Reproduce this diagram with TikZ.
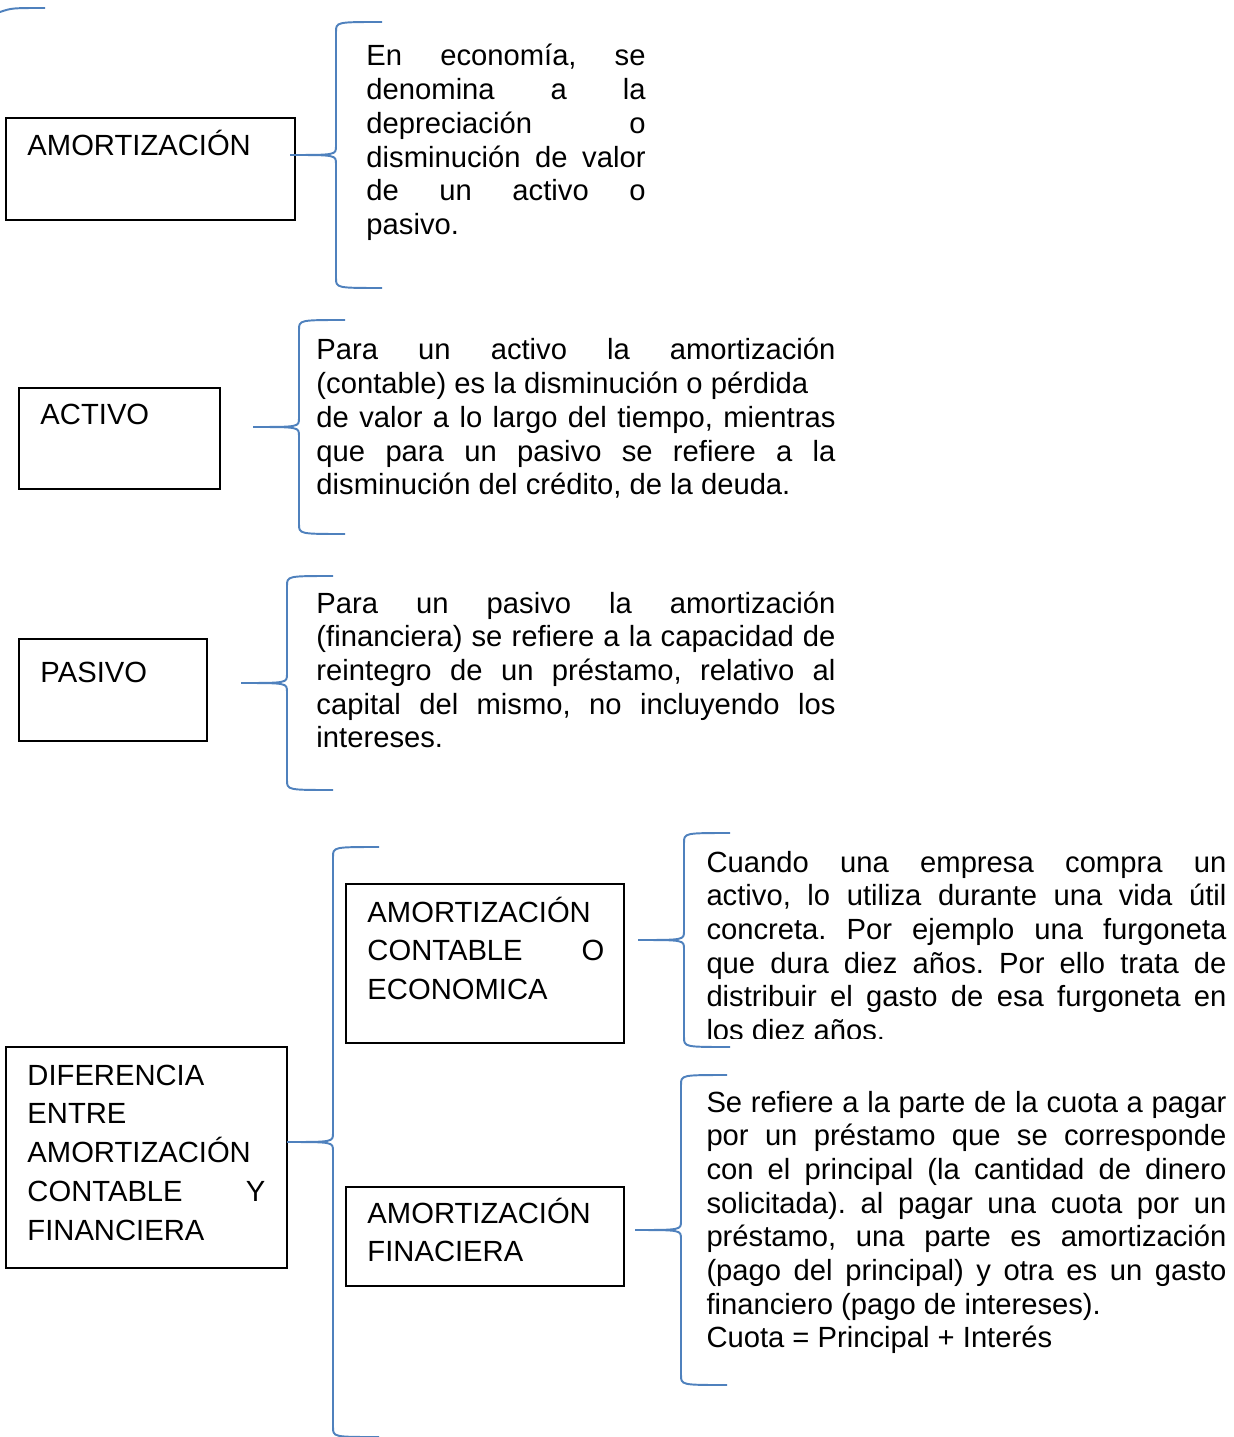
\documentclass[tikz,border=0pt]{standalone}
\usepackage{fontspec}
\setmainfont{Liberation Sans}
\usepackage{xcolor}
\usetikzlibrary{fit}
\definecolor{llaveazul}{rgb}{0.310, 0.506, 0.741}
\tikzset{caja/.style={draw=black, line width=0.8pt, inner sep=0pt}}
\tikzset{textocaja/.style={anchor=base west, inner sep=0pt, align=left, text width=97.4pt, font=\fontsize{12}{16}\selectfont}}
\tikzset{parrafo/.style={anchor=base west, inner sep=0pt, align=justify, font=\fontsize{12}{13.85}\selectfont}}
\tikzset{llave/.style={color=llaveazul, line width=0.8pt}}
\tolerance=10000
\hbadness=10000
\hfuzz=20pt
\hyphenpenalty=10000
\exhyphenpenalty=10000
\adjdemerits=0
\frenchspacing

\newcommand{\llave}[2]{%
  \begin{scope}[shift={(#1)}]
    \draw [llave] (92,-#2) .. controls (46,-#2) .. (46,-#2+10) -- (46,-9)
      .. controls (46,0) .. (0,0) .. controls (46,0) .. (46,9)
      -- (46,#2-10) .. controls (46,#2) .. (92,#2);
  \end{scope}}

\begin{document}
\begin{tikzpicture}[x=0.411pt, y=-0.411pt]
            \clip (0,0) rectangle (1234,1437);

            \draw [llave] (0,12) .. controls (12,8) .. (45,8);

            \node [caja, fit={(6,118) (295,220)}] (Bamort) {};
            \node [textocaja] (Tamort) at (27,156) {AMORTIZACIÓN};
            \coordinate (Ramort) at (290,155);
            \llave{Ramort}{133}
            \node [parrafo, text width=114.7pt] (Pamort) at (366,66)
              {En economía, se\linebreak denomina a la\linebreak depreciación o\linebreak disminución de valor\linebreak de un activo o\linebreak pasivo.};

            \node [caja, fit={(19,388) (220,489)}] (Bactivo) {};
            \node [textocaja] (Tactivo) at (40,425) {ACTIVO};
            \coordinate (Ractivo) at (253,427);
            \llave{Ractivo}{107}
            \node [parrafo, text width=213.3pt] (Pactivo) at (316,360)
              {Para un activo la amortización\linebreak (contable) es la disminución o pérdida\newline de valor a lo largo del tiempo, mientras\linebreak que para un pasivo se refiere a la\linebreak disminución del crédito, de la deuda.};

            \node [caja, fit={(19,639) (207,741)}] (Bpasivo) {};
            \node [textocaja] (Tpasivo) at (40,682) {PASIVO};
            \coordinate (Rpasivo) at (241,683);
            \llave{Rpasivo}{107}
            \node [parrafo, text width=213.3pt] (Ppasivo) at (316,613)
              {Para un pasivo la amortización\linebreak (financiera) se refiere a la capacidad de\linebreak reintegro de un préstamo, relativo al\linebreak capital del mismo, no incluyendo los\linebreak intereses.};

            \node [caja, fit={(6,1047) (287,1268)}] (Bdif) {};
            \node [textocaja, text width=97.8pt] (Tdif) at (27,1085)
              {DIFERENCIA\\ ENTRE\\ AMORTIZACIÓN\\ CONTABLE\hfill Y\\ FINANCIERA};
            \coordinate (Rdif) at (287,1142);
            \llave{Rdif}{295}

            \node [caja, fit={(346,884) (624,1043)}] (Bcont) {};
            \node [textocaja] (Tcont) at (367,922)
              {AMORTIZACIÓN\\ CONTABLE\hfill O\\ ECONOMICA};
            \coordinate (Rcont) at (638,940);
            \llave{Rcont}{107}
            \begin{scope}
              \clip (600,800) rectangle (1234,1038);
              \node [parrafo, text width=213.7pt] (Pcont) at (706,872)
                {Cuando una empresa compra un\linebreak activo, lo utiliza durante una vida útil\linebreak concreta. Por ejemplo una furgoneta\linebreak que dura diez años. Por ello trata de\linebreak distribuir el gasto de esa furgoneta en\linebreak los diez años.};
            \end{scope}

            \node [caja, fit={(346,1187) (624,1286)}] (Bfin) {};
            \node [textocaja] (Tfin) at (367,1223) {AMORTIZACIÓN\\ FINACIERA};
            \coordinate (Rfin) at (635,1230);
            \llave{Rfin}{155}
            \node [parrafo, text width=213.7pt] (Pfin) at (706,1112)
              {Se refiere a la parte de la cuota a pagar\linebreak por un préstamo que se corresponde\linebreak con el principal (la cantidad de dinero\linebreak solicitada). al pagar una cuota por un\linebreak préstamo, una parte es amortización\linebreak (pago del principal) y otra es un gasto\linebreak financiero (pago de intereses).\newline Cuota = Principal + Interés};
        \end{tikzpicture}
\end{document}
